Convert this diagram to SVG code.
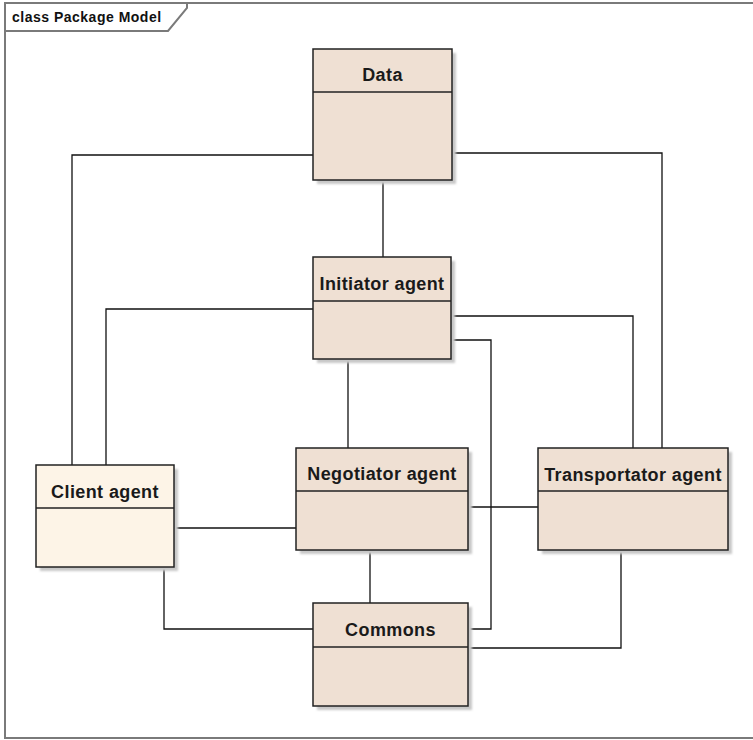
<svg xmlns="http://www.w3.org/2000/svg" width="753" height="740" viewBox="0 0 753 740">
  <style>
    .frame { fill: none; stroke: #7a7a7a; stroke-width: 2; }
    .title { font-family: "Liberation Sans", Arial, sans-serif; font-weight: bold; font-size: 14px; letter-spacing: 0.5px; fill: #111; }
    .shadow { fill: #c8c8c8; filter: url(#soft); }
    .box { fill: #efe0d3; stroke: #222; stroke-width: 1.5; }
    .box.light { fill: #fdf4e7; }
    .div { stroke: #222; stroke-width: 1.5; }
    .name { font-family: "Liberation Sans", Arial, sans-serif; font-weight: bold; font-size: 18px; letter-spacing: 0.4px; fill: #1a1a1a; text-anchor: middle; }
    .conn { fill: none; stroke: #111; stroke-width: 1.3; }
  </style>
  <defs>
    <filter id="soft" x="-10%" y="-10%" width="120%" height="120%">
      <feGaussianBlur stdDeviation="1"/>
    </filter>
  </defs>

  <rect width="753" height="740" fill="#ffffff"/>

  <!-- diagram frame with its name tab -->
  <g id="frame">
    <path class="frame" d="M753 3 H5 V738 H753"/>
    <path class="frame" d="M5 31 H168 L187 8 V3"/>
    <text class="title" x="12" y="22">class Package Model</text>
  </g>

  <!-- dependencies between packages -->
  <g id="connectors">
    <path class="conn" d="M313 155 H72 V465"/>
    <path class="conn" d="M452 153 H662 V448"/>
    <path class="conn" d="M383 180 V257"/>
    <path class="conn" d="M313 309 H106 V465"/>
    <path class="conn" d="M451 316 H633 V448"/>
    <path class="conn" d="M451 340 H491 V629 H468"/>
    <path class="conn" d="M348 359 V448"/>
    <path class="conn" d="M174 528 H296"/>
    <path class="conn" d="M164 567 V629 H313"/>
    <path class="conn" d="M370 550 V603"/>
    <path class="conn" d="M468 507 H538"/>
    <path class="conn" d="M621 550 V648 H468"/>
  </g>

  <g id="data">
    <rect class="shadow" x="317" y="53" width="139" height="131"/>
    <rect class="box" x="313" y="49" width="139" height="131"/>
    <line class="div" x1="313" y1="92" x2="452" y2="92"/>
    <text class="name" x="382.5" y="81">Data</text>
  </g>

  <g id="initiator-agent">
    <rect class="shadow" x="317" y="261" width="138" height="102"/>
    <rect class="box" x="313" y="257" width="138" height="102"/>
    <line class="div" x1="313" y1="301" x2="451" y2="301"/>
    <text class="name" x="382" y="290">Initiator agent</text>
  </g>

  <g id="client-agent">
    <rect class="shadow" x="40" y="469" width="138" height="102"/>
    <rect class="box light" x="36" y="465" width="138" height="102"/>
    <line class="div" x1="36" y1="508" x2="174" y2="508"/>
    <text class="name" x="105" y="498">Client agent</text>
  </g>

  <g id="negotiator-agent">
    <rect class="shadow" x="300" y="452" width="172" height="102"/>
    <rect class="box" x="296" y="448" width="172" height="102"/>
    <line class="div" x1="296" y1="491" x2="468" y2="491"/>
    <text class="name" x="382" y="480">Negotiator agent</text>
  </g>

  <g id="transportator-agent">
    <rect class="shadow" x="542" y="452" width="190" height="102"/>
    <rect class="box" x="538" y="448" width="190" height="102"/>
    <line class="div" x1="538" y1="491" x2="728" y2="491"/>
    <text class="name" x="633" y="481">Transportator agent</text>
  </g>

  <g id="commons">
    <rect class="shadow" x="317" y="607" width="155" height="103"/>
    <rect class="box" x="313" y="603" width="155" height="103"/>
    <line class="div" x1="313" y1="647" x2="468" y2="647"/>
    <text class="name" x="390.5" y="636">Commons</text>
  </g>
</svg>
